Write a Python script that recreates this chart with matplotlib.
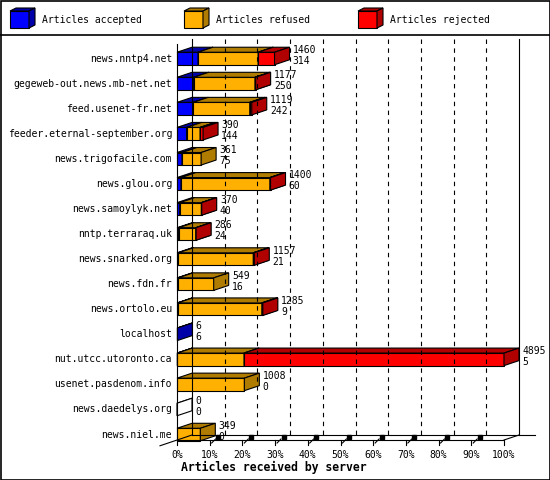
import numpy as np
import matplotlib.pyplot as plt
from matplotlib.patches import Polygon, Rectangle

# servers and article counts
servers = ['news.nntp4.net', 'gegeweb-out.news.mb-net.net', 'feed.usenet-fr.net',
           'feeder.eternal-september.org', 'news.trigofacile.com', 'news.glou.org',
           'news.samoylyk.net', 'nntp.terraraq.uk', 'news.snarked.org', 'news.fdn.fr',
           'news.ortolo.eu', 'localhost', 'nut.utcc.utoronto.ca', 'usenet.pasdenom.info',
           'news.daedelys.org', 'news.niel.me']
accepted = [314, 250, 242, 144, 75, 60, 40, 24, 21, 16, 9, 6, 5, 0, 0, 0]
refused = [900, 917, 847, 201, 286, 1330, 325, 257, 1121, 533, 1261, 0, 998, 1008, 0, 349]
rejected = [246, 10, 30, 45, 0, 10, 5, 5, 15, 0, 15, 0, 3892, 0, 0, 0]

series_names = ['Articles accepted', 'Articles refused', 'Articles rejected']
face_colors = ['#0000ff', '#ffb000', '#ff0000']
shade_colors = ['#0000a8', '#b07c00', '#b00000']
pct_ticks = list(range(0, 101, 10))

plt.rcParams['font.family'] = ['DejaVu Sans Mono']
FS = 7
LW = 0.8

W, H = 550, 480
fig = plt.figure(figsize=(W / 100, H / 100), dpi=100)


def box3d(a, x0, x1, yt, yb, dx, dy, fc, sc):
    front = [(x0, yt), (x1, yt), (x1, yb), (x0, yb)]
    top = [(x0, yt), (x1, yt), (x1 + dx, yt + dy), (x0 + dx, yt + dy)]
    side = [(x1, yt), (x1 + dx, yt + dy), (x1 + dx, yb + dy), (x1, yb)]
    for poly, c in ((front, fc), (top, sc), (side, sc)):
        a.add_patch(Polygon(poly, closed=True, fc=c, ec='black', lw=LW,
                            clip_on=False, joinstyle='miter'))


# frame + legend layer, pixel units
bg = fig.add_axes([0, 0, 1, 1])
bg.set_xlim(0, W)
bg.set_ylim(H, 0)
bg.axis('off')
bg.add_patch(Rectangle((0.5, 0.5), W - 1, H - 1, fill=False, ec='black', lw=1.2))
bg.plot([0, W], [35, 35], color='black', lw=1.2)
for k, name in enumerate(series_names):
    x0 = 10 + k * 174
    box3d(bg, x0, x0 + 19, 11, 28, 6, -3, face_colors[k], shade_colors[k])
    bg.text(x0 + 32, 20, name, fontsize=FS, va='center', ha='left')

# front plane of the 3d chart: x in percent, y in rows
row_px, row0_px = 25.07, 58.5
YTOP = (44 - row0_px) / row_px
YBOT = (440 - row0_px) / row_px
ax = fig.add_axes([177 / W, (H - 440) / H, 327 / W, 396 / H])
ax.set_xlim(0, 100)
ax.set_ylim(YBOT, YTOP)
ax.axis('off')

DX = 15 / 327 * 100    # depth to the right
DY = -5 / row_px       # depth upwards
HH = 0.25              # half bar height

kw = dict(color='black', lw=LW, clip_on=False)
# walls and floor
ax.plot([0, 0], [YTOP, YBOT + 0.2], **kw)
ax.plot([DX, DX], [YTOP + DY, YBOT + DY], **kw)
ax.plot([100 + DX, 100 + DX], [YTOP + DY, YBOT + DY], **kw)
ax.plot([DX, 109.5], [YBOT + DY, YBOT + DY], **kw)
ax.plot([0, 100], [YBOT, YBOT], **kw)
ax.plot([-5.2, DX], [YBOT + 0.23, YBOT + DY], **kw)
ax.plot([100, 100 + DX], [YBOT, YBOT + DY], **kw)
for p in pct_ticks[1:-1]:
    ax.plot([p + DX, p + DX], [YTOP + DY, YBOT + DY], color='black', lw=LW,
            ls=(0, (4, 4)), clip_on=False)

# x ticks
for p in pct_ticks:
    if p > 0:
        ax.plot([p, p], [YBOT, YBOT + 0.2], **kw)
    if 0 < p < 100:
        ax.plot([p + 0.6, p + 1.8], [YBOT + 0.12, YBOT - 0.04], **kw)
        ax.plot([p + 2.6], [YBOT - 0.1], marker='s', ms=2.2, color='black', clip_on=False)
    ax.text(p, (455 - row0_px) / row_px, f'{p}%', fontsize=FS, ha='center', va='center')

totals = [a + r + j for a, r, j in zip(accepted, refused, rejected)]
vmax = max(totals)

for i, name in enumerate(servers):
    ax.text(-1.5, i, name, fontsize=FS, ha='right', va='center')
    segs = [accepted[i], refused[i], rejected[i]]
    x = 0.0
    if totals[i] == 0:
        box3d(ax, 0, 0, i - HH, i + HH, DX, DY, 'white', 'white')
    for k, v in enumerate(segs):
        if v == 0:
            continue
        x1 = x + v / vmax * 100
        box3d(ax, x, x1, i - HH, i + HH, DX, DY, face_colors[k], shade_colors[k])
        x = x1
    ax.text(x + DX + 1.0, i - 0.34, str(totals[i]), fontsize=FS, ha='left', va='center')
    ax.text(x + DX + 1.0, i + 0.1, str(accepted[i]), fontsize=FS, ha='left', va='center')

ax.text(29.7, (467 - row0_px) / row_px, 'Articles received by server', fontsize=8.3,
        fontweight='bold', ha='center', va='center')

fig.savefig('out.png', dpi=100)
